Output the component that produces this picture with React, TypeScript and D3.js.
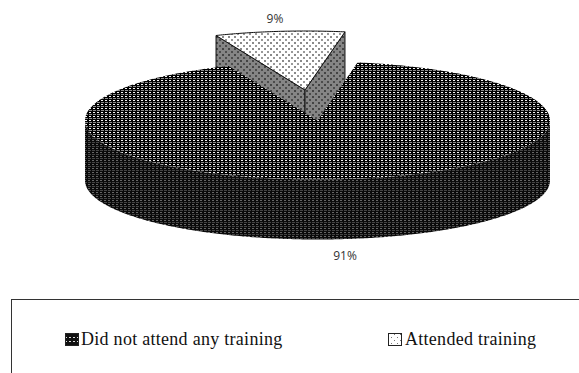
import * as d3 from "d3";

// Share of respondents by training attendance
const categories = ["Did not attend any training", "Attended training"];
const shares = [91, 9];
const shareLabels = ["91%", "9%"];

const W = 579;
const H = 373;
const cx = 317.5;
const cy = 120.5;
const rx = 232.5;
const ry = 59;
const depth = 60;
const firstSliceAngle = (9.9 * Math.PI) / 180;
const explode = { x: -12.5, y: -30.5 };

type P = [number, number];
const rim = (a: number, dx = 0, dy = 0): P => [cx + dx + rx * Math.sin(a), cy + dy - ry * Math.cos(a)];

// Samples an elliptical rim between two angles (clockwise from 12 o'clock)
const arcPts = (a0: number, a1: number, dx = 0, dy = 0): P[] => {
  const n = Math.max(2, Math.ceil(Math.abs(a1 - a0) / 0.01));
  return d3.range(n + 1).map((i) => rim(a0 + ((a1 - a0) * i) / n, dx, dy));
};

const line = d3.line<P>().curve(d3.curveLinear);

export default function App() {
  const arcs = d3
    .pie<number>()
    .sort(null)
    .startAngle(firstSliceAngle)
    .endAngle(firstSliceAngle + 2 * Math.PI)(shares);
  const main = arcs[0];
  const small = arcs[1];

  const mainTop = line([[cx, cy], ...arcPts(main.startAngle, main.endAngle)])! + "Z";

  // Front wall: the visible lower half of the rim, extruded downwards
  const frontA = arcPts(Math.PI / 2, (3 * Math.PI) / 2);
  const mainWall = line([...frontA, ...frontA.slice().reverse().map(([x, y]): P => [x, y + depth])])! + "Z";

  const s0 = small.startAngle;
  const s1 = small.endAngle;
  const apex: P = [cx + explode.x, cy + explode.y];
  const sTop = line([apex, ...arcPts(s0, s1, explode.x, explode.y)])! + "Z";
  const wallOf = (a: number) => {
    const e = rim(a, explode.x, explode.y);
    return line([apex, e, [e[0], e[1] + depth], [apex[0], apex[1] + depth]])! + "Z";
  };

  const legendItems = [
    { x: 65, fill: "url(#legendDark)", textX: 81 },
    { x: 388, fill: "url(#legendLight)", textX: 405 },
  ];

  return (
    <svg
      width={W}
      height={H}
      style={{ position: "absolute", left: 0, top: 0, background: "#fff" }}
    >
      <defs>
        <pattern id="topDots" width={4} height={4} patternUnits="userSpaceOnUse" x={1} y={0}>
          <rect width={4} height={4} fill="#000" />
          <rect x={0} y={0} width={2} height={1} fill="#f4f4f4" />
          <rect x={0} y={2} width={3} height={1} fill="#8c8c8c" />
        </pattern>
        <pattern id="sideDots" width={4} height={4} patternUnits="userSpaceOnUse">
          <rect width={4} height={4} fill="#0a0a0a" />
          <rect x={0} y={0} width={2} height={1} fill="#666" />
          <rect x={0} y={2} width={3} height={1} fill="#444" />
        </pattern>
        <pattern id="lightDots" width={6} height={6} patternUnits="userSpaceOnUse">
          <rect width={6} height={6} fill="#fff" />
          <rect x={0} y={0} width={2} height={2} fill="#8a8a8a" />
          <rect x={3} y={3} width={2} height={2} fill="#999" />
        </pattern>
        <pattern id="wallDots" width={6} height={6} patternUnits="userSpaceOnUse">
          <rect width={6} height={6} fill="#858585" />
          <rect x={0} y={0} width={2} height={2} fill="#444" />
          <rect x={3} y={3} width={2} height={2} fill="#4c4c4c" />
        </pattern>
        <pattern id="legendDark" width={4} height={4} patternUnits="userSpaceOnUse">
          <rect width={4} height={4} fill="#111" />
          <rect x={1} y={1} width={2} height={1} fill="#ddd" />
        </pattern>
        <pattern id="legendLight" width={6} height={6} patternUnits="userSpaceOnUse">
          <rect width={6} height={6} fill="#fff" />
          <rect x={1} y={1} width={1} height={1} fill="#777" />
          <rect x={4} y={4} width={1} height={1} fill="#777" />
        </pattern>
      </defs>

      {/* Pulled-out slice */}
      <path d={wallOf(s0)} fill="url(#wallDots)" stroke="#111" strokeWidth={1} />
      <path d={wallOf(s1)} fill="url(#wallDots)" stroke="#111" strokeWidth={1} />
      <path d={sTop} fill="url(#lightDots)" stroke="#111" strokeWidth={1} />

      {/* Main slice */}
      <path d={mainWall} fill="url(#sideDots)" />
      <path d={mainTop} fill="url(#topDots)" />

      <g fontFamily="'Open Sans', 'Noto Sans', sans-serif" fontSize={12} fill="#333" textAnchor="middle">
        <text x={345} y={260}>{shareLabels[0]}</text>
        <text x={275} y={23}>{shareLabels[1]}</text>
      </g>

      {/* Legend frame runs past the page edge on the right and bottom */}
      <rect x={11.5} y={299.5} width={W + 20} height={H} fill="none" stroke="#333" strokeWidth={1} />
      {categories.map((c, i) => (
        <g key={c}>
          <rect
            x={legendItems[i].x + 0.5}
            y={333.5}
            width={13}
            height={12}
            fill={legendItems[i].fill}
            stroke="#222"
            strokeWidth={1}
          />
          <text
            x={legendItems[i].textX}
            y={345}
            fontFamily="'Liberation Serif', 'Times New Roman', serif"
            fontSize={18}
            letterSpacing={0.28}
            fill="#111"
          >
            {c}
          </text>
        </g>
      ))}
    </svg>
  );
}
